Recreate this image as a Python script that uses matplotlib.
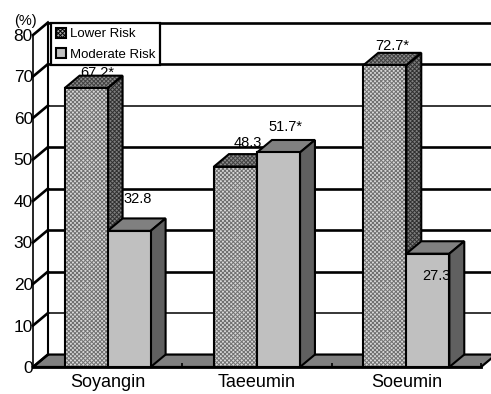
import matplotlib
matplotlib.use("Agg")
import matplotlib.pyplot as plt
from matplotlib.patches import Patch

plt.rcParams['font.family'] = ['Liberation Sans', 'DejaVu Sans']
plt.rcParams['hatch.linewidth'] = 0.7

groups = ['Soyangin', 'Taeeumin', 'Soeumin']
lower_risk = [67.2, 48.3, 72.7]
moderate_risk = [32.8, 51.7, 27.3]
lower_labels = ['67.2*', '48.3', '72.7*']
moderate_labels = ['32.8', '51.7*', '27.3']
y_ticks = [0, 10, 20, 30, 40, 50, 60, 70, 80]

W, H = 491, 394
width = 0.288
dx = 0.1   # depth of the fake 3d, x units
dy = 3.0   # depth of the fake 3d, y units
thin_grid = [10, 60]
pattern = 'xxxxxxxx'

fig = plt.figure(figsize=(W/100, H/100), dpi=100)
ax = fig.add_axes([33/W, (H-367)/H, 448/W, 332/H])
ax.set_xlim(-0.5, 2.5)
ax.set_ylim(0, 80)
ax.patch.set_visible(False)
ax.spines['top'].set_visible(False)
ax.spines['right'].set_visible(False)
ax.spines['left'].set_linewidth(1.2)
ax.spines['bottom'].set_linewidth(2)

# floor and walls
ax.fill([-0.5, -0.5+dx, 2.5+dx, 2.5], [0, dy, dy, 0], fc='#808080', ec='black', lw=1.6,
        clip_on=False, zorder=1)
ax.plot([-0.5+dx, -0.5+dx], [dy, 80+dy], color='black', lw=1.5, clip_on=False, zorder=1.2)
for t in y_ticks:
    lw = 1.1 if t in thin_grid else 1.9
    if t > 0:
        ax.plot([-0.5+dx, 2.5+dx], [t+dy, t+dy], color='black', lw=lw, clip_on=False, zorder=1.1)
    ax.plot([-0.5, -0.5+dx], [t, t+dy], color='black', lw=1.9, clip_on=False, zorder=1.2)


def box(x0, h, front, top, side, hatched, z):
    x1 = x0 + width
    top_x = [x0, x0+dx, x1+dx, x1]
    top_y = [h, h+dy, h+dy, h]
    side_x = [x1, x1+dx, x1+dx, x1]
    side_y = [0, dy, h+dy, h]
    if hatched:
        ax.fill(top_x, top_y, fc=top, ec='#404040', hatch=pattern, lw=0, clip_on=False, zorder=z)
        ax.fill(side_x, side_y, fc=side, ec='#303030', hatch=pattern, lw=0, clip_on=False, zorder=z)
        ax.fill(top_x, top_y, fill=False, ec='black', lw=1.5, clip_on=False, zorder=z+0.05)
        ax.fill(side_x, side_y, fill=False, ec='black', lw=1.5, clip_on=False, zorder=z+0.05)
        ax.bar(x0, h, width, align='edge', color=front, edgecolor='#707070', hatch=pattern,
               lw=0, clip_on=False, zorder=z+0.1)
        ax.bar(x0, h, width, align='edge', fill=False, edgecolor='black', lw=1.5,
               clip_on=False, zorder=z+0.2)
    else:
        ax.fill(top_x, top_y, fc=top, ec='black', lw=1.5, clip_on=False, zorder=z)
        ax.fill(side_x, side_y, fc=side, ec='black', lw=1.5, clip_on=False, zorder=z)
        ax.bar(x0, h, width, align='edge', color=front, edgecolor='black', lw=1.5,
               clip_on=False, zorder=z+0.1)


for i in range(len(groups)):
    box(i-width, lower_risk[i], '#d8d8d8', '#8c8c8c', '#808080', True, 3+i)
    box(i, moderate_risk[i], '#c0c0c0', '#808080', '#606060', False, 3.5+i)

# value labels, offsets in points from the bar's front top centre
lower_off = [(8, 6), (9, 12), (5, 9)]
moderate_off = [(6, 18), (5, 13.5), (6, -21)]
for i in range(len(groups)):
    ax.annotate(lower_labels[i], (i-width/2, lower_risk[i]), xytext=lower_off[i],
                textcoords='offset points', ha='center', va='bottom', fontsize=10.5,
                annotation_clip=False, zorder=2.8)
    ax.annotate(moderate_labels[i], (i+width/2, moderate_risk[i]), xytext=moderate_off[i],
                textcoords='offset points', ha='center', va='bottom', fontsize=10.5,
                annotation_clip=False, zorder=10)

ax.set_yticks(y_ticks)
ax.tick_params(axis='y', length=0, pad=0, labelsize=12.5)
ax.set_xticks(range(len(groups)))
ax.set_xticklabels(groups, fontsize=13)
ax.tick_params(axis='x', length=0, pad=5)
ax.set_xticks([0.5, 1.5, 2.5], minor=True)
ax.tick_params(axis='x', which='minor', direction='in', length=3, width=1.2)

ax.text(-0.475, 81.6, '(%)', ha='right', va='bottom', fontsize=10.5, clip_on=False)

handles = [Patch(facecolor='#aaaaaa', edgecolor='black', hatch=pattern, lw=1.5, label='Lower Risk'),
           Patch(facecolor='#c0c0c0', edgecolor='black', lw=1.5, label='Moderate Risk')]
leg = ax.legend(handles=handles, loc='upper left', bbox_to_anchor=(51/W, (H-23)/H),
                bbox_transform=fig.transFigure, fontsize=9.5, fancybox=False, framealpha=1,
                edgecolor='black', borderaxespad=0, borderpad=0.35, labelspacing=0.6,
                handlelength=0.8, handleheight=0.8, handletextpad=0.3)
leg.get_frame().set_linewidth(1.6)
leg.set_zorder(20)

fig.savefig('out.png', dpi=100)
